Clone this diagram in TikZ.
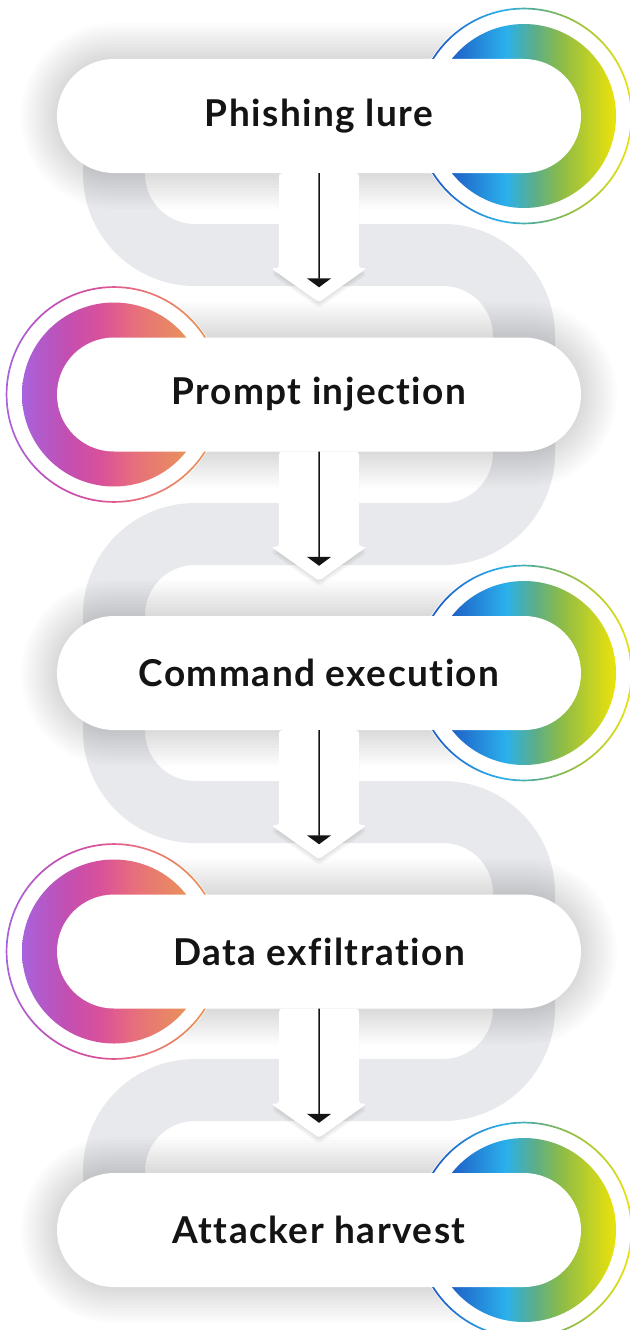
\documentclass[tikz,border=0pt]{standalone}
\usepackage{fontspec}
\setmainfont{Lato}[Ligatures=NoCommon, LetterSpace=4]
\usepackage{tikz}
\usetikzlibrary{shapes.misc,arrows.meta}

\definecolor{pipe}{HTML}{E8E9EC}
\definecolor{ink}{HTML}{141414}
\definecolor{cA}{HTML}{1F5FC6}
\definecolor{cB}{HTML}{2AB0EC}
\definecolor{cC}{HTML}{5CAE88}
\definecolor{cD}{HTML}{8CBB48}
\definecolor{cE}{HTML}{E6E00E}
\definecolor{wA}{HTML}{A862DC}
\definecolor{wB}{HTML}{C24FB2}
\definecolor{wC}{HTML}{D8509C}
\definecolor{wD}{HTML}{E8707A}
\definecolor{wE}{HTML}{E8925A}

\pgfdeclarehorizontalshading{cool}{100bp}{color(0bp)=(cA); color(30bp)=(cA);
  color(45bp)=(cB); color(53bp)=(cC); color(60bp)=(cD); color(74bp)=(cE); color(100bp)=(cE)}
\pgfdeclarehorizontalshading{warm}{100bp}{color(0bp)=(wA); color(25bp)=(wA);
  color(37bp)=(wB); color(46bp)=(wC); color(56bp)=(wD); color(70bp)=(wE); color(100bp)=(wE)}

\pgfdeclarelayer{back}
\pgfdeclarelayer{halo}
\pgfsetlayers{back,halo,main}

\tikzset{
  stage/.style={rounded rectangle, fill=white, inner sep=0pt,
    minimum width=524pt, minimum height=114pt, text=ink,
    font=\bfseries\fontsize{37}{40}\selectfont},
  glow/.style={rounded rectangle, fill=black, fill opacity=.011, inner sep=0pt},
  flow/.style={-{Triangle[width=24pt,length=9pt]}, line width=1.5pt, draw=ink,
    shorten >=50pt},
}

\begin{document}
\begin{tikzpicture}[x=1pt,y=-1pt]
  \useasboundingbox (0,0) rectangle (629,1330);

  \node[stage] (s1) at (319,116) {Phishing lure};
  \node[stage] (s2) at (319,394.5) {Prompt injection};
  \node[stage] (s3) at (319,673) {Command execution};
  \node[stage] (s4) at (319,951.5) {Data exfiltration};
  \node[stage] (s5) at (319,1230) {Attacker harvest};

  \begin{pgfonlayer}{back}
    \fill[white] (0,0) rectangle (629,1330);
    \draw[pipe, line width=62pt, rounded corners=81pt] (114,116) -- (114,255)
      -- (524,255) -- (524,534) -- (114,534) -- (114,812) -- (524,812)
      -- (524,1090) -- (114,1090) -- (114,1230);
  \end{pgfonlayer}

  \begin{pgfonlayer}{halo}
    \foreach \i in {1,...,5}
      \foreach \r in {3,6,...,36}
        \node[glow, minimum width={524+2*\r}, minimum height={114+2*\r}] at (s\i) {};
    \foreach \n/\x/\sh in {s1/524/cool, s2/114/warm, s3/524/cool, s4/114/warm, s5/524/cool} {
      \coordinate (c) at (\x,0 |- \n);
      \fill[white] (c) circle (109pt);
      \shade[shading=\sh, even odd rule] (c) circle (108.3pt) circle (106.6pt);
      \shade[shading=\sh] (c) circle (92pt);
    }
  \end{pgfonlayer}

  \foreach \a/\b in {s1/s2, s2/s3, s3/s4, s4/s5} {
    \foreach \d in {2,4,6}
      \fill[black, opacity=.035, rounded corners=3pt] ([yshift=-\d pt]\a.south) ++(-40,0)
        -- ++(0,95) -- ++(-8,0) -- ++(48,34) -- ++(48,-34) -- ++(-8,0) -- ++(0,-95) -- cycle;
    \fill[white, rounded corners=3pt] (\a.south) ++(-40,0)
      -- ++(0,95) -- ++(-8,0) -- ++(48,34) -- ++(48,-34) -- ++(-8,0) -- ++(0,-95) -- cycle;
    \draw[flow] (\a) -- (\b);
  }
\end{tikzpicture}
\end{document}
